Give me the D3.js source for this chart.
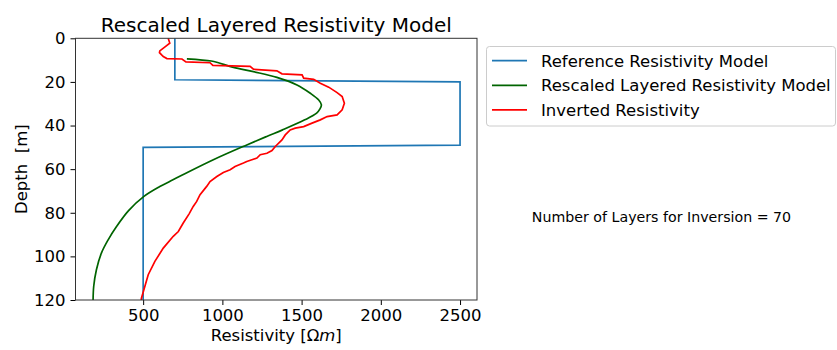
<!DOCTYPE html>
<html>
<head>
<meta charset="utf-8">
<script src="https://cdn.jsdelivr.net/npm/d3@7"></script>
<style>
  body { margin: 0; background: #fff; }
  svg { display: block; font-family: "DejaVu Sans", sans-serif; }
</style>
</head>
<body>
<div id="chart"></div>
<script>
// reference model: [depth, resistivity]
const referenceModel = [[0, 700], [19, 700], [20, 2500], [49, 2500], [50, 500], [120, 500]];

// rescaled layered model (smooth curve)
const rescaledModel = [
  [9.4, 776], [10.4, 930], [11.2, 975], [13.3, 1070], [15.3, 1196], [17.9, 1344],
  [21.4, 1471], [25.2, 1555], [28.3, 1608], [30.5, 1625], [32.5, 1615], [34.3, 1595],
  [37.4, 1520], [42, 1380], [45, 1280], [48.9, 1154], [55.7, 943], [62.6, 750],
  [65, 685], [68, 605], [72.5, 505], [79, 408], [86.3, 332], [92.4, 279],
  [98.4, 237], [106.1, 205], [113.7, 188], [120, 184]
];

// inverted resistivity (stepped profile)
const invertedModel = [
  [0, 658], [2.2, 668], [3.8, 640], [5.8, 605], [6.6, 603], [8.4, 627], [9.3, 650],
  [9.5, 745], [10.8, 770], [11.2, 922], [12.4, 940], [12.9, 1175], [14.2, 1196],
  [14.9, 1344], [16.3, 1376], [16.8, 1503], [18.3, 1513], [18.8, 1576], [20.6, 1618],
  [22.4, 1671], [24.9, 1724], [26.7, 1756], [29.8, 1770], [32.8, 1756], [35.1, 1724],
  [35.9, 1661], [37.4, 1618], [38.9, 1566], [40.5, 1513], [41.2, 1460], [42, 1428],
  [44.3, 1397], [46.6, 1376], [49.6, 1334], [51.5, 1313], [52.7, 1281], [53.4, 1239],
  [54.9, 1218], [55.7, 1186], [56.5, 1154], [57.2, 1133], [58.8, 1080], [60.3, 1049],
  [61.5, 1006], [63.4, 965], [65.7, 922], [67.9, 901], [71.7, 859], [74.8, 838],
  [77.1, 816], [80.5, 790], [84.7, 753], [88.6, 722], [90.8, 690], [96.2, 627],
  [102.3, 574], [108.4, 532], [113.7, 511], [119, 490], [120, 487]
];

const xTicks = [500, 1000, 1500, 2000, 2500];
const yTicks = [0, 20, 40, 60, 80, 100, 120];
const seriesNames = ["Reference Resistivity Model", "Rescaled Layered Resistivity Model", "Inverted Resistivity"];
const seriesColors = ["#1f77b4", "#006400", "#ff0000"];
const numLayers = 70;

const width = 837, height = 350;
const plot = { left: 75.5, right: 477, top: 38.3, bottom: 300 };

const svg = d3.select("#chart").append("svg")
  .attr("width", width)
  .attr("height", height);

const x = d3.scaleLinear().domain([73, 2607]).range([plot.left, plot.right]);
const y = d3.scaleLinear().domain([0, 120]).range([plot.top, plot.bottom]);

// clip to axes
svg.append("clipPath").attr("id", "clip")
  .append("rect")
  .attr("x", plot.left).attr("y", plot.top)
  .attr("width", plot.right - plot.left).attr("height", plot.bottom - plot.top);

const lines = svg.append("g").attr("clip-path", "url(#clip)");

const lineLinear = d3.line().x(d => x(d[1])).y(d => y(d[0]));
const lineSmooth = d3.line().x(d => x(d[1])).y(d => y(d[0])).curve(d3.curveCatmullRom.alpha(0.5));

lines.append("path").datum(referenceModel)
  .attr("d", lineLinear)
  .attr("fill", "none").attr("stroke", seriesColors[0]).attr("stroke-width", 1.7);

lines.append("path").datum(rescaledModel)
  .attr("d", lineSmooth)
  .attr("fill", "none").attr("stroke", seriesColors[1]).attr("stroke-width", 1.7);

lines.append("path").datum(invertedModel)
  .attr("d", lineLinear)
  .attr("fill", "none").attr("stroke", seriesColors[2]).attr("stroke-width", 1.7);

// axes
const fontSize = "16.5px";
const xAxis = svg.append("g")
  .attr("transform", `translate(0,${plot.bottom})`)
  .call(d3.axisBottom(x).tickValues(xTicks).tickFormat(d3.format("d")).tickSize(5).tickPadding(4).tickSizeOuter(0));
const yAxis = svg.append("g")
  .attr("transform", `translate(${plot.left},0)`)
  .call(d3.axisLeft(y).tickValues(yTicks).tickFormat(d3.format("d")).tickSize(5).tickPadding(5).tickSizeOuter(0));

[xAxis, yAxis].forEach(g => {
  g.select(".domain").remove();
  g.selectAll("text").attr("font-size", fontSize).attr("fill", "#000").attr("font-family", "DejaVu Sans");
  g.selectAll("line").attr("stroke", "#000");
});

// frame
svg.append("rect")
  .attr("x", plot.left).attr("y", plot.top)
  .attr("width", plot.right - plot.left).attr("height", plot.bottom - plot.top)
  .attr("fill", "none").attr("stroke", "#333").attr("stroke-width", 1);

// title and labels
svg.append("text")
  .attr("x", (plot.left + plot.right) / 2).attr("y", 31.5)
  .attr("text-anchor", "middle").attr("font-size", "20px")
  .text("Rescaled Layered Resistivity Model");

const xl = svg.append("text")
  .attr("x", (plot.left + plot.right) / 2).attr("y", 340.5)
  .attr("text-anchor", "middle").attr("font-size", fontSize);
xl.append("tspan").text("Resistivity [Ω");
xl.append("tspan").attr("font-style", "italic").text("m");
xl.append("tspan").text("]");

svg.append("text")
  .attr("transform", `translate(26.5,${(plot.top + plot.bottom) / 2}) rotate(-90)`)
  .attr("text-anchor", "middle").attr("font-size", fontSize)
  .attr("xml:space", "preserve")
  .text("Depth  [m]");

// legend
const legend = svg.append("g");
legend.append("rect")
  .attr("x", 486.5).attr("y", 46.5).attr("width", 349).attr("height", 79.5)
  .attr("rx", 3).attr("fill", "#fff").attr("stroke", "#ccc");
seriesNames.forEach((name, i) => {
  const cy = 60.7 + i * 24.6;
  legend.append("line")
    .attr("x1", 492).attr("x2", 527).attr("y1", cy).attr("y2", cy)
    .attr("stroke", seriesColors[i]).attr("stroke-width", 1.7);
  legend.append("text")
    .attr("x", 541).attr("y", cy + 6).attr("font-size", fontSize)
    .text(name);
});

// annotation
svg.append("text")
  .attr("x", 661.5).attr("y", 221.5)
  .attr("text-anchor", "middle").attr("font-size", "14.2px")
  .text("Number of Layers for Inversion = " + numLayers);
</script>
</body>
</html>
